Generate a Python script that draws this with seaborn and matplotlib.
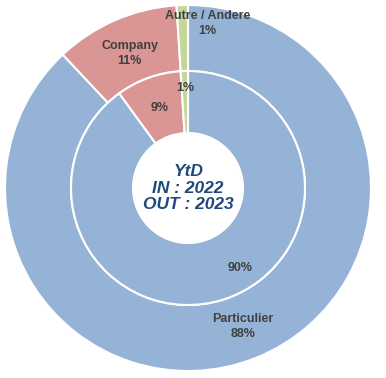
import seaborn as sns
import matplotlib.pyplot as plt
import numpy as np

sns.set_theme(style='white')
plt.rcParams['font.family'] = ['Liberation Sans', 'DejaVu Sans']

# data (clockwise from 12 o'clock)
categories = ['Particulier', 'Company', 'Autre / Andere']
outer_vals = [88, 11, 1]      # OUT : 2023
inner_vals = [90, 9, 1]       # IN : 2022
colors = ['#95B3D7', '#DA9694', '#C4D79B']

center_text = 'YtD\nIN : 2022\nOUT : 2023'

# label placement (radius, angle shift in degrees) per wedge
outer_lab = [(149, 0), (147, 0), (166, -8.5)]
inner_lab = [(95, 15), (85, 0), (100, 0)]

fig = plt.figure(figsize=(3.86, 3.78), dpi=100)
ax = fig.add_axes([0, 0, 1, 1])

R_out, R_mid, R_in = 183, 117, 55
wp = dict(edgecolor='white', linewidth=1.5)
w_out, _ = ax.pie(outer_vals, radius=R_out, colors=colors, startangle=90,
                  counterclock=False, wedgeprops=dict(width=R_out - R_mid, **wp))
w_in, _ = ax.pie(inner_vals, radius=R_mid, colors=colors, startangle=90,
                 counterclock=False, wedgeprops=dict(width=R_mid - R_in, **wp))

txt = dict(ha='center', va='center', fontsize=9, fontweight='bold', color='#404040')
for w, name, v, (r, s) in zip(w_out, categories, outer_vals, outer_lab):
    a = np.deg2rad((w.theta1 + w.theta2) / 2 + s)
    ax.text(r * np.cos(a), r * np.sin(a), f'{name}\n{v}%', linespacing=1.35, **txt)
for w, v, (r, s) in zip(w_in, inner_vals, inner_lab):
    a = np.deg2rad((w.theta1 + w.theta2) / 2 + s)
    ax.text(r * np.cos(a), r * np.sin(a), f'{v}%', **txt)

ax.text(0, 0, center_text, ha='center', va='center', fontsize=12.5,
        fontweight='bold', fontstyle='italic', color='#1F497D', linespacing=1.15)

ax.set_xlim(-188, 198)
ax.set_ylim(-190, 188)
ax.set_aspect('equal')
ax.axis('off')

fig.savefig('out.png', dpi=100, facecolor='white')
